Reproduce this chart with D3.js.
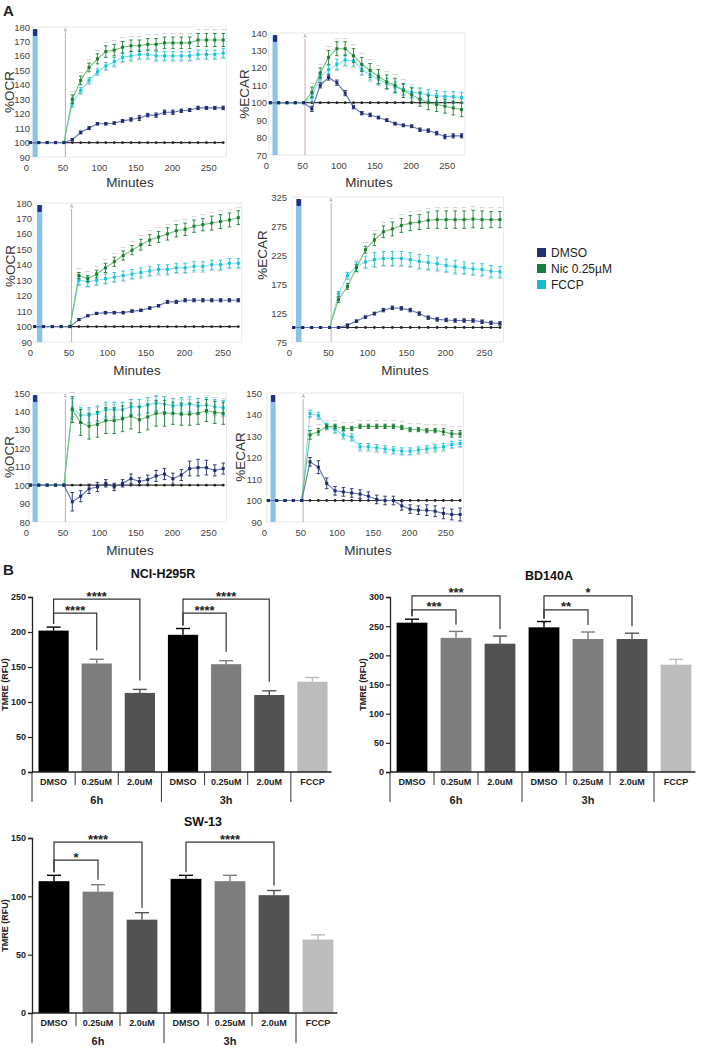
<!DOCTYPE html>
<html><head><meta charset="utf-8">
<script src="https://cdn.jsdelivr.net/npm/d3@7"></script>
<style>body{margin:0;background:#fff}svg{display:block}</style>
</head><body>
<svg id="c" width="704" height="1050"></svg>
<script>
// ---------------- DATA ----------------
const times = [6,17.5,29,40.5,52,63.5,75,86.5,98,109.5,121,132.5,144,155.5,167,178.5,190,201.5,213,224.5,236,247.5,259,270.5];
const control = [100,100,100,100,100,100,100,100,100,100,100,100,100,100,100,100,100,100,100,100,100,100,100,100];
const minuteTicks = [0,50,100,150,200,250];

// Row 1 OCR
const ocr1Dmso = [100,100,100,100,100,102,107,110,113,113,113.5,115,116,117,119,119,121,121,122,122.5,124,124,124,124];
const ocr1DmsoErr = [0,0,0,0,0,0.8,1,1,0.8,0.8,0.8,1,1.2,1.8,1.2,1.5,1.5,1.5,1.2,1,1.2,1,1,1.2];
const ocr1Nic = [100,100,100,100,100,130,143,152,158,163,164,166,167,167,168,168,169,169,169,169,171,171,171,171];
const ocr1NicErr = [0,0,0,0,0,3,3,3,3.5,4,4,4,4,4,4,4,4,4,4,4,4.5,4.5,4.5,4.5];
const ocr1Fccp = [100,100,100,100,100,127,136,143,149,153,156,159,160,161,161,160,160,160,160,160,161,161,161,162];
const ocr1FccpErr = [0,0,0,0,0,2,2,2,2,2.5,3,3,3,3,3,3,3,3,3,3,3,3,3,3];
// Row 1 ECAR
const ecar1Dmso = [100,100,100,100,100,96.5,110,114.5,111.5,105.5,97.5,94,93,91.5,90,88,87,86.5,84.5,84,82.5,80.5,81,81];
const ecar1DmsoErr = [0,0,0,0,0,1.5,1.5,1.5,1.5,1.5,1,1,1,0.8,0.8,0.8,0.8,0.8,1,1,1,1.2,1.2,1.2];
const ecar1Nic = [100,100,100,100,100,106,117,126,131,131,127,122,118.5,115,112,110,107,104.5,102,100,99,98,97,96];
const ecar1NicErr = [0,0,0,0,0,3,3,4,4,4,4,4,4,4,4,4,4,4,4,4,4,4,4,4];
const ecar1Fccp = [100,100,100,100,100,103,115,119,122,124.5,124,119,116,113.5,111,109,107.5,106,105.5,104.5,104,103.5,103.5,103];
const ecar1FccpErr = [0,0,0,0,0,2,2,2.5,3,3,3,3,3,3,3,3,3,3,3,3,3,3,3,3];
// Row 2 OCR
const ocr2Dmso = [100,100,100,100,100,104.5,107,108.5,109,109,109,110,110.5,112,113.5,116,116,117,117,117,117,117,117,117];
const ocr2DmsoErr = [0,0,0,0,0,0.6,0.6,0.7,0.8,0.8,0.8,0.8,0.8,0.8,0.8,1,1,1,1,1,1,1,1,1];
const ocr2Nic = [100,100,100,100,100,133,131,134,138,142,146,149.5,153,156,158,160,162,163,165,166,167,168,169,170.5];
const ocr2NicErr = [0,0,0,0,0,2,2,2.5,3,3,3,3,3.5,3.5,3.5,4,4,4,4,4,4.5,4.5,4.5,4.5];
const ocr2Fccp = [100,100,100,100,100,130,129,130,131,132,133,134,135,136,137,137,138,138,139,139,140,140,141,141];
const ocr2FccpErr = [0,0,0,0,0,3,3,3,3,3,3,3,3,3,3,3,3,3,3,3,3,3,3,3];
// Row 2 ECAR
const ecar2Dmso = [100,100,100,100,100,100,104,111,118,124,130,134,133,130,124,117,114,113,112,112,112,110,108,107];
const ecar2DmsoErr = [0,0,0,0,0,1.5,2,2,2,2.5,3,3,3,3,3,3,3,3,3,3,3,3,3,3];
const ecar2Nic = [100,100,100,100,100,148,171,203,234,251,265,270,276,280,282,285,286,286,286,286,287,286,286,286];
const ecar2NicErr = [0,0,0,0,0,5,5,6,6,10,10,12,12,13,13,14,15,15,15,15,15,15,14,14];
const ecar2Fccp = [100,100,100,100,100,158,190,205,213,217,219,219,219,217,214,212,210,207,205,203,201,200,197,196];
const ecar2FccpErr = [0,0,0,0,0,4,5,8,10,12,12,12,12,12,12,12,11,11,11,10,10,10,10,9];
// Row 3 OCR
const ocr3Dmso = [100,100,100,100,100,91,94,98,99,101,99,101,103.5,102,103,105,106,103.5,105.5,109,109.5,109.5,108,109];
const ocr3DmsoErr = [0,0,0,0,0,5,3,2.5,2.5,2,2,2,2.5,2,2.5,3,3,3,3,4,4.5,4,3,3];
const ocr3Nic = [100,100,100,100,100,141,134,132,133,135,135,136,137.5,135.5,137,139,139,139,138.5,138.5,139,140.5,139.5,139];
const ocr3NicErr = [0,0,0,0,0,7,7,7,7,7,7,7,7,7,7,7,7,6,6,6,6,6,6,6];
const ocr3Fccp = [100,100,100,100,100,142,138,138,139,141,141,141,142.5,142.5,143.5,144.5,144,143,143.5,144,143,143.5,142.5,142];
const ocr3FccpErr = [0,0,0,0,0,5,4,4,4,4,4,4,4,4,4,4,4,4,4,4,4,4,4,4];
// Row 3 ECAR
const ecar3Dmso = [100,100,100,100,100,118,115.5,108,104.5,104,103.5,103,102,100.5,100,100,97.5,96,95.5,95.5,95,94,93.5,93.5];
const ecar3DmsoErr = [0,0,0,0,0,2,3,2.5,2,2,2,2,2,2,2,2,2,2,2,2.5,2.5,2.5,2.5,3];
const ecar3Nic = [100,100,100,100,100,130.5,132,134.5,134.5,133.5,133.5,134.5,134.5,134.5,134.5,134.5,134,133,133,132.5,132.5,132,131,131];
const ecar3NicErr = [0,0,0,0,0,2,1.5,1,1,1,1,1,1,1,1,1,1,1,1,1,1,1.5,1.5,1.5];
const ecar3Fccp = [100,100,100,100,100,140.5,139.5,134.5,133,130.5,129.5,125,125,124.5,124,123.5,123,123,123.5,124,124.5,125,126,126.5];
const ecar3FccpErr = [0,0,0,0,0,1.5,1.5,1.5,1.5,1.5,1.5,1.5,1.5,1.5,1.5,1.5,1.5,1.5,1.5,1.5,1.5,1.5,1.5,1.5];

const ocrTicks1 = [90,100,110,120,130,140,150,160,170,180];
const ecarTicks1 = [70,80,90,100,110,120,130,140];
const ocrTicks2 = [90,100,110,120,130,140,150,160,170,180];
const ecarTicks2 = [75,125,175,225,275,325];
const ocrTicks3 = [80,90,100,110,120,130,140,150];
const ecarTicks3 = [90,100,110,120,130,140,150];

const legendNames = ["DMSO","Nic 0.25\u00b5M","FCCP"];

// Bar charts
const barCats = ["DMSO","0.25uM","2.0uM","DMSO","0.25uM","2.0uM","FCCP"];
const barGroups = ["6h","3h"];
const nciVals = [202,155,113,196,154,110,129];
const nciErr  = [5,6,5,9,5,6,6];
const bdVals  = [256,230,220,248,228,228,184];
const bdErr   = [6,11,13,10,12,10,9];
const swVals  = [113,104,80,115,113,101,63];
const swErr   = [5,6,6,3,5,4,4];
const nciTicks = [0,50,100,150,200,250];
const bdTicks = [0,50,100,150,200,250,300];
const swTicks = [0,50,100,150];
const nciSig = [{a:0,b:1,lev:227,t:"****"},{a:0,b:2,lev:247,t:"****"},{a:3,b:4,lev:227,t:"****"},{a:3,b:5,lev:247,t:"****"}];
const bdSig  = [{a:0,b:1,lev:278,t:"***"},{a:0,b:2,lev:302,t:"***"},{a:3,b:4,lev:278,t:"**"},{a:3,b:5,lev:302,t:"*"}];
const swSig  = [{a:0,b:1,lev:131,t:"*"},{a:0,b:2,lev:146.5,t:"****"},{a:3,b:5,lev:146.5,t:"****"}];

// ---------------- STYLE ----------------
const FONT = "'Liberation Sans', Arial, sans-serif";
const col = {
  dmso:{pt:"#1f2a6b", ln:"#6272b0"},
  nic:{pt:"#1d7d37", ln:"#72bf78"},
  fccp:{pt:"#19c3d6", ln:"#86dfe9"}
};
const legendCols = ["#252e74","#15803a","#18b9d0"];
const barColors = ["#000000","#7d7d7d","#525252","#000000","#7d7d7d","#525252","#bcbcbc"];

const svg = d3.select("#c");
svg.append("rect").attr("width",704).attr("height",1050).attr("fill","#fff");

// ---------------- PANEL A ----------------
const panels = [
 {x0:26,  k:0.729, yd:[90,180],  yr:[157,27],  ticks:ocrTicks1,  tx:31,  lab:"%OCR",  lx:9,   ly:92,  mx:130, my:187, s:[ocr1Dmso,ocr1DmsoErr,ocr1Nic,ocr1NicErr,ocr1Fccp,ocr1FccpErr]},
 {x0:266, k:0.723, yd:[70,140],  yr:[155,33],  ticks:ecarTicks1, tx:268, lab:"%ECAR", lx:244, ly:94,  mx:369, my:187, s:[ecar1Dmso,ecar1DmsoErr,ecar1Nic,ecar1NicErr,ecar1Fccp,ecar1FccpErr]},
 {x0:30,  k:0.77,  yd:[90,180],  yr:[342,203], ticks:ocrTicks2,  tx:33,  lab:"%OCR",  lx:10,  ly:266, mx:137, my:375, s:[ocr2Dmso,ocr2DmsoErr,ocr2Nic,ocr2NicErr,ocr2Fccp,ocr2FccpErr]},
 {x0:289, k:0.78,  yd:[75,325],  yr:[342,197], ticks:ecarTicks2, tx:288, lab:"%ECAR", lx:262, ly:255, mx:405, my:375, s:[ecar2Dmso,ecar2DmsoErr,ecar2Nic,ecar2NicErr,ecar2Fccp,ecar2FccpErr]},
 {x0:26,  k:0.729, yd:[80,150],  yr:[522,393], ticks:ocrTicks3,  tx:31,  lab:"%OCR",  lx:9,   ly:457, mx:130, my:555, s:[ocr3Dmso,ocr3DmsoErr,ocr3Nic,ocr3NicErr,ocr3Fccp,ocr3FccpErr]},
 {x0:264, k:0.725, yd:[90,150],  yr:[522,393], ticks:ecarTicks3, tx:263, lab:"%ECAR", lx:240, ly:457, mx:368, my:555, s:[ecar3Dmso,ecar3DmsoErr,ecar3Nic,ecar3NicErr,ecar3Fccp,ecar3FccpErr]}
];

function drawPanel(p){
  const g = svg.append("g");
  const x = d3.scaleLinear().domain([0,275]).range([p.x0, p.x0+275*p.k]);
  const y = d3.scaleLinear().domain(p.yd).range(p.yr);
  const top = p.yr[1], bot = p.yr[0];
  g.append("rect").attr("x",x(4)).attr("y",top).attr("width",x(275)-x(4)).attr("height",bot-top)
    .attr("fill","none").attr("stroke","#e4e4e4").attr("stroke-width",0.8);
  g.append("rect").attr("x",x(9)).attr("y",top+2).attr("width",x(16)-x(9)).attr("height",bot-top-2).attr("fill","#8cc2e8");
  g.append("rect").attr("x",x(9)+0.5).attr("y",top+2).attr("width",x(16)-x(9)-1).attr("height",7).attr("fill","#1f2f86").attr("rx",1);
  g.append("line").attr("x1",x(54)).attr("x2",x(54)).attr("y1",top+6).attr("y2",bot).attr("stroke","#c9a7aa").attr("stroke-width",1);
  g.append("text").attr("x",x(54)).attr("y",top+5).attr("text-anchor","middle").attr("font-size",4.5).attr("fill","#888").attr("font-family",FONT).text("A");
  const ya = g.append("g").attr("transform",`translate(${p.tx},0)`).call(d3.axisLeft(y).tickValues(p.ticks).tickSize(0).tickPadding(1));
  ya.select(".domain").remove();
  ya.selectAll("text").attr("font-size",9.5).attr("fill","#444").attr("font-family",FONT);
  const xa = g.append("g").attr("transform",`translate(0,${bot+4})`).call(d3.axisBottom(x).tickValues(minuteTicks).tickSize(0).tickPadding(3));
  xa.select(".domain").remove();
  xa.selectAll("text").attr("font-size",9.5).attr("fill","#444").attr("font-family",FONT);
  g.append("text").attr("transform",`translate(${p.lx},${p.ly}) rotate(-90)`).attr("text-anchor","middle").attr("dy","0.35em")
    .attr("font-size",13.5).attr("fill","#333").attr("font-family",FONT).text(p.lab);
  g.append("text").attr("x",p.mx).attr("y",p.my).attr("text-anchor","middle").attr("font-size",13.5).attr("fill","#333").attr("font-family",FONT).text("Minutes");

  const line = d3.line().x((d,i)=>x(times[i])).y(d=>y(d));
  g.append("path").attr("d",line(control)).attr("fill","none").attr("stroke","#333").attr("stroke-width",1.2);
  g.selectAll(null).data(control).join("circle").attr("cx",(d,i)=>x(times[i])).attr("cy",d=>y(d)).attr("r",1.4).attr("fill","#222");

  const series = [
    {v:p.s[4], e:p.s[5], c:col.fccp, sig:"below"},
    {v:p.s[2], e:p.s[3], c:col.nic, sig:"above"},
    {v:p.s[0], e:p.s[1], c:col.dmso, sig:null}
  ];
  series.forEach(s=>{
    g.append("path").attr("d",line(s.v)).attr("fill","none").attr("stroke",s.c.ln).attr("stroke-width",1.1);
  });
  series.forEach(s=>{
    const eg = g.append("g").attr("stroke",s.c.pt).attr("stroke-width",0.9);
    s.v.forEach((v,i)=>{
      const e = s.e[i]; if(!e) return;
      const cx = x(times[i]);
      eg.append("line").attr("x1",cx).attr("x2",cx).attr("y1",y(v-e)).attr("y2",y(v+e));
      eg.append("line").attr("x1",cx-1.8).attr("x2",cx+1.8).attr("y1",y(v-e)).attr("y2",y(v-e));
      eg.append("line").attr("x1",cx-1.8).attr("x2",cx+1.8).attr("y1",y(v+e)).attr("y2",y(v+e));
      if(s.sig==="above") g.append("text").attr("x",cx).attr("y",y(v+e)-1.2).attr("text-anchor","middle").attr("font-size",3.2).attr("fill","#9a9a9a").attr("font-family",FONT).text("****");
      if(s.sig==="below") g.append("text").attr("x",cx).attr("y",y(v-e)+3.6).attr("text-anchor","middle").attr("font-size",3.2).attr("fill","#9a9a9a").attr("font-family",FONT).text("****");
    });
    g.selectAll(null).data(s.v).join("rect").attr("x",(d,i)=>x(times[i])-1.5).attr("y",d=>y(d)-1.5).attr("width",3).attr("height",3).attr("fill",s.c.pt);
  });
}
panels.forEach(drawPanel);

svg.append("text").attr("x",3).attr("y",16).attr("font-size",15).attr("font-weight","bold").attr("fill","#222").attr("font-family",FONT).text("A");

const lg = svg.append("g").attr("transform","translate(537,248)");
legendNames.forEach((n,i)=>{
  lg.append("rect").attr("x",0).attr("y",i*16).attr("width",9).attr("height",9).attr("fill",legendCols[i]);
  lg.append("text").attr("x",14).attr("y",i*16+9).attr("font-size",12).attr("fill","#222").attr("font-family",FONT).text(n);
});

// ---------------- PANEL B ----------------
svg.append("text").attr("x",3).attr("y",575).attr("font-size",15).attr("font-weight","bold").attr("fill","#222").attr("font-family",FONT).text("B");

const barCharts = [
  {title:"NCI-H295R", tx:163, ty:578, x0:32,  x1:334, base:772,  top:597, max:250, ticks:nciTicks, vals:nciVals, err:nciErr, sig:nciSig, legGap:9},
  {title:"BD140A",    tx:549, ty:580, x0:390, x1:698, base:772,  top:597, max:300, ticks:bdTicks,  vals:bdVals,  err:bdErr,  sig:bdSig,  legGap:7},
  {title:"SW-13",     tx:203, ty:826, x0:32,  x1:340, base:1013, top:838, max:150, ticks:swTicks,  vals:swVals,  err:swErr,  sig:swSig,  legGap:5}
];

function drawBars(c){
  const g = svg.append("g");
  const x = d3.scaleBand().domain(d3.range(barCats.length)).range([c.x0,c.x1]).paddingInner(0.3).paddingOuter(0.15);
  const y = d3.scaleLinear().domain([0,c.max]).range([c.base,c.top]);
  const bw = x.bandwidth(), step = x.step();
  g.append("text").attr("x",c.tx).attr("y",c.ty).attr("text-anchor","middle").attr("font-size",12.5).attr("font-weight","bold").attr("fill","#111").attr("font-family",FONT).text(c.title);
  g.selectAll(null).data(c.vals).join("rect").attr("x",(d,i)=>x(i)).attr("y",d=>y(d)).attr("width",bw).attr("height",d=>c.base-y(d)).attr("fill",(d,i)=>barColors[i]);
  c.vals.forEach((v,i)=>{
    const cx = x(i)+bw/2, et = y(v+c.err[i]);
    g.append("line").attr("x1",cx).attr("x2",cx).attr("y1",y(v)).attr("y2",et).attr("stroke",barColors[i]).attr("stroke-width",1.4);
    g.append("line").attr("x1",cx-7).attr("x2",cx+7).attr("y1",et).attr("y2",et).attr("stroke",barColors[i]).attr("stroke-width",1.4);
  });
  const ya = g.append("g").attr("transform",`translate(${c.x0},0)`).call(d3.axisLeft(y).tickValues(c.ticks).tickSize(4).tickPadding(2));
  ya.select(".domain").attr("stroke","#222").attr("stroke-width",1.3);
  ya.selectAll(".tick line").attr("stroke","#222").attr("stroke-width",1.2);
  ya.selectAll("text").attr("font-size",9).attr("font-weight","bold").attr("fill","#222").attr("font-family",FONT);
  g.append("text").attr("transform",`translate(${c.x0-27},${(c.base+c.top)/2}) rotate(-90)`).attr("text-anchor","middle").attr("dy","0.35em")
    .attr("font-size",9).attr("font-weight","bold").attr("fill","#222").attr("font-family",FONT).text("TMRE (RFU)");
  g.append("line").attr("x1",c.x0).attr("x2",x(barCats.length-1)+bw+4).attr("y1",c.base).attr("y2",c.base).attr("stroke","#222").attr("stroke-width",1.3);
  barCats.forEach((d,i)=>{
    const sx = x(i)-step*0.15;
    const long = (i===0||i===3||i===6);
    g.append("line").attr("x1",sx).attr("x2",sx).attr("y1",c.base).attr("y2",c.base+(long?30:13)).attr("stroke","#333").attr("stroke-width",1);
    g.append("text").attr("x",x(i)+bw/2).attr("y",c.base+13).attr("text-anchor","middle").attr("font-size",9).attr("font-weight","bold").attr("fill","#222").attr("font-family",FONT).text(d);
  });
  barGroups.forEach((gname,k)=>{
    const cx = x(k*3+1)+bw/2;
    g.append("text").attr("x",cx).attr("y",c.base+32).attr("text-anchor","middle").attr("font-size",11).attr("font-weight","bold").attr("fill","#222").attr("font-family",FONT).text(gname);
  });
  c.sig.forEach(s=>{
    const xa = x(s.a)+bw/2, xb = x(s.b)+bw/2, ly = y(s.lev);
    const ya0 = y(c.vals[s.a]+c.err[s.a])-3, yb0 = y(c.vals[s.b]+c.err[s.b])-c.legGap;
    g.append("path").attr("d",`M${xa},${ya0}V${ly}H${xb}V${yb0}`).attr("fill","none").attr("stroke","#333").attr("stroke-width",1.2);
    g.append("text").attr("x",(xa+xb)/2).attr("y",ly+1.5).attr("text-anchor","middle").attr("font-size",13).attr("font-weight","bold").attr("fill","#222").attr("font-family",FONT).text(s.t);
  });
}
barCharts.forEach(drawBars);
</script>
</body></html>
